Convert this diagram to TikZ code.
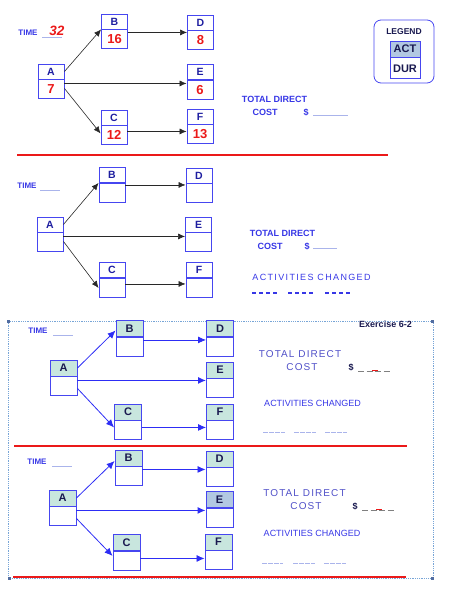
\documentclass[tikz,border=0pt]{standalone}
\usepackage{fontspec}
\setmainfont{Liberation Sans}
\usetikzlibrary{positioning,arrows.meta}

\definecolor{boxblue}{RGB}{70,70,240}
\definecolor{textblue}{RGB}{55,55,230}
\definecolor{actnavy}{RGB}{30,30,160}
\definecolor{darknavy}{RGB}{25,25,80}
\definecolor{durred}{RGB}{235,25,25}
\definecolor{arrgray}{RGB}{40,40,40}
\definecolor{arrblue}{RGB}{45,45,245}
\definecolor{hdgreen}{RGB}{200,230,222}
\definecolor{hdblue}{RGB}{178,200,226}
\definecolor{ulblue}{RGB}{170,180,235}
\definecolor{framecol}{RGB}{120,165,215}
\definecolor{spacedblue}{RGB}{80,80,200}

\begin{document}
\begin{tikzpicture}[x=1pt,y=-1pt,
  act1/.style={draw=boxblue,line width=0.9pt,minimum width=26pt,minimum height=15pt,inner sep=0pt,
    text=actnavy,font=\fontsize{10.5}{10.5}\selectfont\bfseries},
  dur1/.style={act1,minimum height=19pt,text=durred,font=\fontsize{13}{13}\selectfont\bfseries},
  act3/.style={act1,minimum width=27pt,minimum height=16pt,text=darknavy,font=\fontsize{11}{11}\selectfont\bfseries},
  dur3/.style={act3,minimum height=19pt},
  arr/.style={-{Latex[length=7pt,width=6pt]},line width=0.6pt,draw=arrgray},
  barr/.style={-{Latex[length=8pt,width=7pt]},line width=0.8pt,draw=arrblue},
  lbl/.style={inner sep=0pt,text=textblue,font=\fontsize{8}{8}\selectfont\bfseries},
  big/.style={lbl,font=\fontsize{9}{9}\selectfont\bfseries},
  spaced/.style={inner sep=0pt,text=spacedblue,font=\fontsize{10}{10}\selectfont\addfontfeature{LetterSpace=11}},
  plain/.style={inner sep=0pt,text=textblue,font=\fontsize{9}{9}\selectfont},
  uline/.style={draw=ulblue,line width=0.7pt},
  blank/.style={draw=textblue,line width=1.1pt,dash pattern=on 4pt off 3pt},
  lightblank/.style={draw=ulblue,line width=0.9pt,dash pattern=on 4.5pt off 1.5pt},
  money/.style={draw=gray,line width=1pt,dash pattern=on 6pt off 2.5pt},
  redline/.style={draw=durred,line width=1.8pt},
  handle/.style={fill=framecol!60!darknavy,minimum width=3pt,minimum height=3pt,inner sep=0pt}]
  \useasboundingbox (0,0) rectangle (457,599);

  % first network, filled in
  \foreach \n/\x/\y/\d in {A/51/71.5/7, B/114.5/21.5/16, C/114/117.5/12, D/200.5/22.5/8, E/200/72/6, F/200/116.5/13} {
    \node[act1] (\n1) at (\x,\y) {\n};
    \node[dur1,below=0pt of \n1] (\n1d) {\d};
  }
  \draw[arr] (A1.east) -- (B1.south west);
  \draw[arr] ([yshift=-4pt]A1d.north east) -- ([yshift=-3.5pt]E1d.north west);
  \draw[arr] ([yshift=-9pt]A1d.north east) -- ([yshift=-8pt]C1d.north west);
  \draw[arr] ([yshift=-3pt]B1d.north east) -- ([yshift=-2pt]D1d.north west);
  \draw[arr] ([yshift=-6pt]C1d.north east) -- ([yshift=-7pt]F1d.north west);

  \node[lbl] (time1) at (28,33) {TIME};
  \draw[uline] (42,37) -- (62,37);
  \node[inner sep=0pt,text=durred,font=\fontsize{13.5}{13.5}\selectfont\bfseries\itshape] (time1v) at (57,31) {32};
  \node[big] (total1) at (274.5,99) {TOTAL DIRECT};
  \node[big] (cost1) at (265,112) {COST};
  \node[big] (dollar1) at (306,112) {\$};
  \draw[uline] (313,115) -- (348,115);

  % legend
  \draw[draw=boxblue,line width=0.8pt,rounded corners=7pt] (374,20) rectangle (434,83);
  \node[inner sep=0pt,text=darknavy,font=\fontsize{8.5}{8.5}\selectfont\bfseries] (legend) at (404,32) {LEGEND};
  \node[act1,fill=hdblue,minimum width=30pt,minimum height=16pt,text=darknavy,font=\fontsize{11}{11}\selectfont\bfseries] (legact) at (405,49) {ACT};
  \node[act1,minimum width=30pt,minimum height=21pt,text=darknavy,font=\fontsize{11}{11}\selectfont\bfseries,below=0pt of legact] (legdur) {DUR};

  \draw[redline] (17,155) -- (388,155);

  % second network, blank
  \foreach \n/\x/\y in {A/50/224.5, B/112/175, C/112/270, D/199/175.5, E/198.5/224.5, F/199/270} {
    \node[act1] (\n2) at (\x,\y) {\n};
    \node[dur1,below=0pt of \n2] (\n2d) {};
  }
  \draw[arr] (A2.east) -- (B2.south west);
  \draw[arr] ([yshift=-4pt]A2d.north east) -- ([yshift=-4pt]E2d.north west);
  \draw[arr] ([yshift=-9pt]A2d.north east) -- ([yshift=-10pt]C2d.north west);
  \draw[arr] ([yshift=-2pt]B2d.north east) -- ([yshift=-1.5pt]D2d.north west);
  \draw[arr] ([yshift=-6pt]C2d.north east) -- ([yshift=-6pt]F2d.north west);

  \node[lbl] (time2) at (27,186) {TIME};
  \draw[uline] (40,190) -- (60,190);
  \node[big] (total2) at (282.5,233) {TOTAL DIRECT};
  \node[big] (cost2) at (270,246) {COST};
  \node[big] (dollar2) at (307,246) {\$};
  \draw[uline] (313,248) -- (337,248);
  \node[plain,font=\fontsize{9}{9}\selectfont\addfontfeature{LetterSpace=15}] (changed2) at (311.5,277) {ACTIVITIES CHANGED};
  \draw[blank] (252,293) -- (277,293);
  \draw[blank] (288,293) -- (313,293);
  \draw[blank] (325,293) -- (350,293);

  % exercise frame
  \draw[draw=framecol,line width=0.8pt,densely dotted] (8,321) rectangle (433,578);
  \node[handle] (h1) at (8,321) {};
  \node[handle] (h2) at (220,321) {};
  \node[handle] (h3) at (432,321) {};
  \node[handle] (h4) at (9,578) {};
  \node[handle] (h5) at (432,578) {};
  \node[inner sep=0pt,text=darknavy,font=\fontsize{9}{9}\selectfont\bfseries] (exercise) at (385.5,324) {Exercise 6-2};

  % third network
  \foreach \n/\x/\y in {A/63.5/368, B/129.5/328.5, C/128/412, D/220/328.5, E/220/370, F/220/412} {
    \node[act3,fill=hdgreen] (\n3) at (\x,\y) {\n};
    \node[dur3,below=0pt of \n3] (\n3d) {};
  }
  \draw[barr] (A3.east) -- ([yshift=-2pt]B3.west);
  \draw[barr,line width=1.3pt] ([yshift=-4pt]A3d.north east) -- ([yshift=-2pt]E3d.north west);
  \draw[barr] ([yshift=-12pt]A3d.north east) -- ([yshift=-7pt]C3d.north west);
  \draw[barr] ([yshift=-3pt]B3d.north east) -- ([yshift=-3pt]D3d.north west);
  \draw[barr] ([yshift=-7pt]C3d.north east) -- ([yshift=-7pt]F3d.north west);

  \node[lbl] (time3) at (38,331) {TIME};
  \draw[uline] (53,335) -- (73,335);
  \node[spaced] (total3) at (300,354) {TOTAL DIRECT};
  \node[spaced] (cost3) at (302,367) {COST};
  \node[inner sep=0pt,text=darknavy,font=\fontsize{9}{9}\selectfont\bfseries] (dollar3) at (351,367) {\$};
  \draw[money] (358,371) -- (390,371);
  \draw[draw=durred,line width=1.3pt] (372,370.5) -- (378,370.5);
  \node[plain] (changed3) at (312.5,403) {ACTIVITIES CHANGED};
  \draw[lightblank] (263,432) -- (285,432);
  \draw[lightblank] (294,432) -- (316,432);
  \draw[lightblank] (325,432) -- (347,432);

  \draw[redline] (14,446) -- (407,446);

  % fourth network
  \foreach \n/\x/\y/\c in {A/62.5/498/hdgreen, B/128.5/458/hdgreen, C/126.5/542.5/hdgreen, D/219.5/459/hdgreen, E/219.5/499.5/hdblue, F/218.5/542/hdgreen} {
    \node[act3,fill=\c] (\n4) at (\x,\y) {\n};
    \node[dur3,below=0pt of \n4] (\n4d) {};
  }
  \draw[barr] (A4.east) -- ([yshift=-3pt]B4.west);
  \draw[barr,line width=1.3pt] ([yshift=-4pt]A4d.north east) -- ([yshift=-2.5pt]E4d.north west);
  \draw[barr] ([yshift=-12pt]A4d.north east) -- ([yshift=-5pt]C4d.north west);
  \draw[barr] ([yshift=-3pt]B4d.north east) -- ([yshift=-2pt]D4d.north west);
  \draw[barr] ([yshift=-7.5pt]C4d.north east) -- ([yshift=-8pt]F4d.north west);

  \node[lbl] (time4) at (37,462) {TIME};
  \draw[uline] (52,466) -- (72,466);
  \node[spaced] (total4) at (304.5,493) {TOTAL DIRECT};
  \node[spaced] (cost4) at (306,506) {COST};
  \node[inner sep=0pt,text=darknavy,font=\fontsize{9}{9}\selectfont\bfseries] (dollar4) at (355,506) {\$};
  \draw[money] (362,510) -- (394,510);
  \draw[draw=durred,line width=1.3pt] (376,509.5) -- (382,509.5);
  \node[plain] (changed4) at (312,533) {ACTIVITIES CHANGED};
  \draw[lightblank] (262,563) -- (283,563);
  \draw[lightblank] (293,563) -- (315,563);
  \draw[lightblank] (324,563) -- (346,563);

  \draw[redline] (13,577) -- (406,577);
\end{tikzpicture}
\end{document}
